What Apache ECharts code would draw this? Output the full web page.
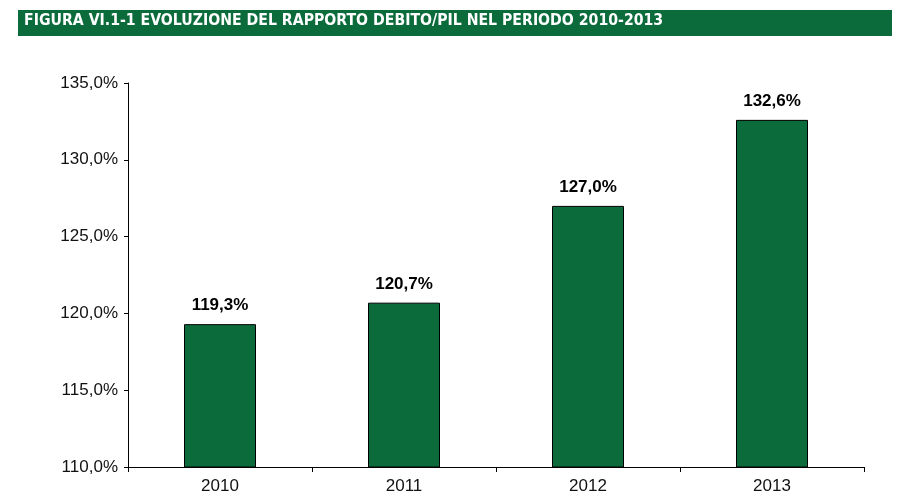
<!DOCTYPE html>
<html><head><meta charset="utf-8">
<script src="https://cdn.jsdelivr.net/npm/echarts@6/dist/echarts.min.js"></script>
<style>html,body{margin:0;padding:0;background:#fff}#c{width:908px;height:499px}</style>
</head><body><div id="c"></div>
<script>
const title = 'FIGURA VI.1-1 EVOLUZIONE DEL RAPPORTO DEBITO/PIL NEL PERIODO 2010-2013';
const categories = ['2010', '2011', '2012', '2013'];
const values = [119.3, 120.7, 127.0, 132.6];
const yMin = 110, yMax = 135, yStep = 5;

const fmt = v => v.toFixed(1).replace('.', ',') + '%';
const chart = echarts.init(document.getElementById('c'));
chart.setOption({
  animation: false,
  graphic: [
    {type: 'rect', shape: {x: 18, y: 10, width: 874, height: 26}, style: {fill: '#0b6b3b'}},
    {type: 'text', left: 24, top: 13, style: {text: title, fill: '#fff', font: 'bold 15.7px "DejaVu Sans Condensed", sans-serif'}}
  ],
  grid: {left: 128, right: 44, top: 83, bottom: 32},
  xAxis: {
    type: 'category', data: categories,
    axisLine: {lineStyle: {color: '#000', width: 1}},
    axisTick: {show: true, length: 5, lineStyle: {color: '#000'}},
    axisLabel: {color: '#111', fontSize: 17, fontFamily: 'Liberation Sans, Arial, sans-serif', margin: 11}
  },
  yAxis: {
    type: 'value', min: yMin, max: yMax, interval: yStep,
    axisLine: {show: true, lineStyle: {color: '#000', width: 1}},
    axisTick: {show: true, length: 4, lineStyle: {color: '#000'}},
    splitLine: {show: false},
    axisLabel: {color: '#111', fontSize: 17, fontFamily: 'Liberation Sans, Arial, sans-serif', margin: 10, formatter: fmt}
  },
  series: [{
    type: 'bar', data: values, barWidth: 72,
    itemStyle: {color: '#0b6b3b', borderColor: '#000', borderWidth: 1},
    label: {show: true, position: 'top', distance: 10, color: '#000', fontWeight: 'bold', fontSize: 17, fontFamily: 'Liberation Sans, Arial, sans-serif', formatter: p => fmt(p.value)}
  }]
});
</script></body></html>
